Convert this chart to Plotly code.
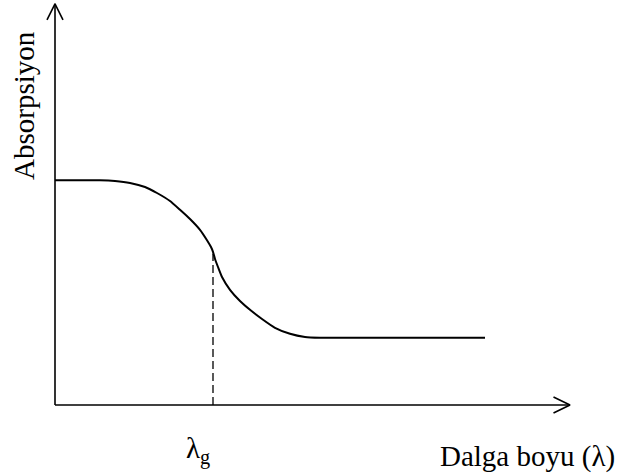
import plotly.graph_objects as go

# Absorption curve (arbitrary units: wavelength on x, absorption on y)
wavelength = [0.0, 0.9, 1.2, 1.5, 1.8, 2.04, 2.3, 2.5, 2.7, 2.9, 3.04, 3.12, 3.16,
              3.2, 3.26, 3.34, 3.5, 3.7, 3.9, 4.14, 4.4, 4.7, 5.0, 5.3, 5.46, 8.6]
absorption = [5.62, 5.62, 5.6, 5.55, 5.45, 5.3, 5.1, 4.88, 4.65, 4.38, 4.12, 3.95, 3.83,
              3.65, 3.45, 3.2, 2.88, 2.6, 2.38, 2.15, 1.93, 1.78, 1.7, 1.68, 1.68, 1.68]

lambda_g = 3.16          # wavelength at the inflection point
lambda_g_abs = 3.78      # top of the dashed marker line

x_axis_end = 10.3
y_axis_end = 10.03

x_label = "Dalga boyu (λ)"
y_label = "Absorpsiyon"
marker_label = "λ<sub>g</sub>"

FONT = "Liberation Serif, Times New Roman, serif"
BLACK = "#000000"

fig = go.Figure()

# axes with open arrow heads
axis_line = dict(color=BLACK, width=1.6)
fig.add_trace(go.Scatter(x=[0, x_axis_end], y=[0, 0], mode="lines",
                         line=axis_line, hoverinfo="skip"))
fig.add_trace(go.Scatter(x=[0, 0], y=[0, y_axis_end], mode="lines",
                         line=axis_line, hoverinfo="skip"))
fig.add_trace(go.Scatter(x=[x_axis_end - 0.33, x_axis_end, x_axis_end - 0.33],
                         y=[0.2, 0, -0.2], mode="lines",
                         line=axis_line, hoverinfo="skip"))
fig.add_trace(go.Scatter(x=[-0.16, 0, 0.16],
                         y=[y_axis_end - 0.4, y_axis_end, y_axis_end - 0.4], mode="lines",
                         line=axis_line, hoverinfo="skip"))

# dashed marker at lambda_g
fig.add_trace(go.Scatter(x=[lambda_g, lambda_g], y=[0, lambda_g_abs], mode="lines",
                         line=dict(color=BLACK, width=1.3, dash="8px,4px"),
                         hoverinfo="skip"))

# absorption curve
fig.add_trace(go.Scatter(x=wavelength, y=absorption, mode="lines",
                         line=dict(color=BLACK, width=2, shape="spline", smoothing=0.4),
                         hoverinfo="skip"))

fig.add_annotation(text=y_label, xref="paper", yref="paper",
                   x=24 / 619, y=1 - 106 / 476, xanchor="center", yanchor="middle",
                   showarrow=False, textangle=-90,
                   font=dict(family=FONT, size=29, color=BLACK))
fig.add_annotation(text=x_label, xref="paper", yref="paper",
                   x=527 / 619, y=1 - 456 / 476, xanchor="center", yanchor="middle",
                   showarrow=False,
                   font=dict(family=FONT, size=29, color=BLACK))
fig.add_annotation(text=marker_label, x=lambda_g - 0.3, xref="x",
                   yref="paper", y=1 - 450 / 476, xanchor="center", yanchor="middle",
                   showarrow=False,
                   font=dict(family=FONT, size=29, color=BLACK))

fig.update_layout(
    width=619, height=476,
    margin=dict(l=0, r=0, t=0, b=0),
    paper_bgcolor="white", plot_bgcolor="white",
    showlegend=False,
    xaxis=dict(visible=False, range=[-55 / 50, (619 - 55) / 50], fixedrange=True),
    yaxis=dict(visible=False, range=[-71 / 40, 405 / 40], fixedrange=True),
)

fig.write_html("out.html", config={"displayModeBar": False})
